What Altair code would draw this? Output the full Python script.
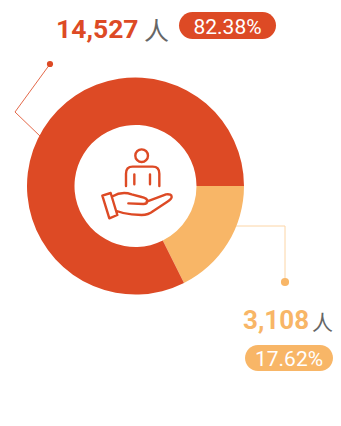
import math
import altair as alt
import pandas as pd

categories = ["tier_b", "tier_a"]
counts = [3108, 14527]
count_labels = ["3,108", "14,527"]
shares = ["17.62%", "82.38%"]
unit = "人"
RED = "#DD4A25"
ORANGE = "#F8B667"

ICON = ("M155 43A19 19 0 1 1 154.9 43Z "
        "M108 153L108 116Q108 95 128 95L188 95Q208 95 208 116L208 153 "
        "M133 118L133 148 M180 118L180 148 "
        "M37 182L62 174L82 240L58 250Z "
        "M68 184Q95 168 125 178L155 186Q172 190 172 198Q172 207 160 207L115 205 "
        "M170 200L228 178Q245 176 245 186Q245 192 232 200L190 228Q175 240 155 240L125 238Q100 236 80 228")

df = pd.DataFrame({"cat": categories, "count": counts, "ord": [0, 1]})
base = alt.Chart(df)

donut = base.mark_arc(innerRadius=61, outerRadius=108.5).encode(
    theta=alt.Theta("count:Q", stack=True, scale=alt.Scale(range=[math.pi / 2, math.pi * 2.5])),
    order=alt.Order("ord:Q"),
    color=alt.Color("cat:N", scale=alt.Scale(domain=categories, range=[ORANGE, RED]), legend=None),
    x=alt.value(127.5),
    y=alt.value(178),
)

one = alt.Chart(pd.DataFrame({"a": [0]}))

def rule(x1, y1, x2, y2, color, w=1.0):
    return one.mark_rule(color=color, strokeWidth=w).encode(
        x=alt.value(x1), y=alt.value(y1), x2=alt.value(x2), y2=alt.value(y2))

def dot(x, y, color, r):
    return one.mark_point(filled=True, color=color, opacity=1, size=3.14 * r * r, shape="circle").encode(
        x=alt.value(x), y=alt.value(y))

def text(s, x, y, size, color, font, weight="normal", align="left"):
    return one.mark_text(text=s, fontSize=size, color=color, font=font, fontWeight=weight,
                         align=align, baseline="alphabetic").encode(x=alt.value(x), y=alt.value(y))

def pill(x1, y1, x2, y2, color):
    return one.mark_bar(color=color, cornerRadius=(y2 - y1) / 2).encode(
        x=alt.value(x1), x2=alt.value(x2), y=alt.value(y1), y2=alt.value(y2))

icon = one.mark_point(shape=ICON, size=4 / 9, filled=False, stroke=RED, strokeWidth=2.4, opacity=1,
                      strokeCap="round", strokeJoin="round").encode(x=alt.value(82), y=alt.value(127))

NUM = "Roboto"
LAB = "Roboto"
CJK = "Noto Sans CJK SC"

chart = alt.layer(
    rule(42, 56, 7, 104, "#E4694A"),
    rule(7, 104, 33, 129, "#E4694A"),
    dot(42, 56, RED, 3.5),
    rule(228, 218, 277, 218, "#FCD5A6"),
    rule(277, 218, 277, 274, "#FCD5A6"),
    dot(277, 274, ORANGE, 4.6),
    donut,
    icon,
    text(count_labels[1], 48, 30, 26.5, RED, NUM, "bold"),
    text(unit, 136, 32, 25, "#666666", CJK),
    pill(171, 4, 268, 31, RED),
    text(shares[1], 219.5, 25.5, 21, "#FFFFFF", LAB, align="center"),
    text(count_labels[0], 235, 321, 26, ORANGE, NUM, "bold"),
    text(unit, 304, 322, 21, "#666666", CJK),
    pill(237, 337, 325, 363, ORANGE),
    text(shares[0], 281, 358, 21, "#FFFFFF", LAB, align="center"),
).properties(width=325, height=375, padding=0, autosize=alt.AutoSizeParams(type="none")).configure_view(stroke=None)

chart.save("out.html", embed_options={"renderer": "svg", "actions": False})
